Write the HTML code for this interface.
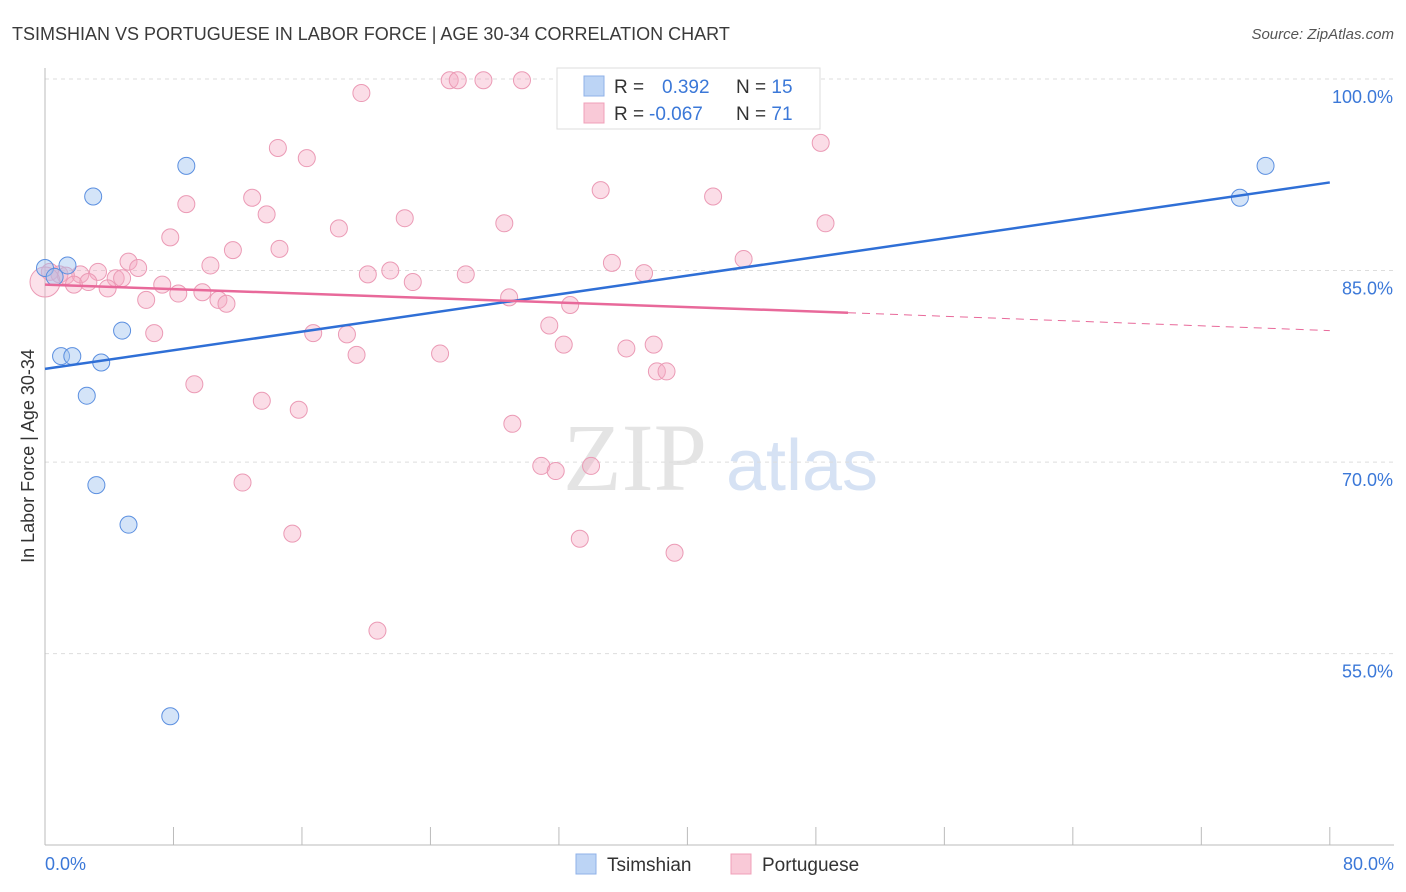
<!DOCTYPE html>
<html><head><meta charset="utf-8"><style>
body{margin:0;background:#fff;font-family:"Liberation Sans",sans-serif;}
svg{display:block}
</style></head><body>
<svg id="chart" width="1406" height="892">
<text x="12" y="40" font-size="18" fill="#3a3a3a">TSIMSHIAN VS PORTUGUESE IN LABOR FORCE | AGE 30-34 CORRELATION CHART</text>
<text x="1394" y="39" font-size="15" fill="#555" font-style="italic" text-anchor="end">Source: ZipAtlas.com</text>
<text x="635" y="490" font-size="96" fill="#e4e4e4" font-family="Liberation Serif,serif" text-anchor="middle">ZIP</text>
<text x="802" y="490" font-size="72" fill="#d6e2f4" text-anchor="middle">atlas</text>
<g id="grid"></g><g id="axes"></g><g id="marks"></g>
<text transform="translate(34,456) rotate(-90)" font-size="18" fill="#333" text-anchor="middle">In Labor Force | Age 30-34</text>
<text x="45" y="870" font-size="18" fill="#3b78d8">0.0%</text>
<text x="1394" y="870" font-size="18" fill="#3b78d8" text-anchor="end">80.0%</text>
<g>
<rect x="557" y="68" width="263" height="61" fill="#fff" stroke="#ddd"/>
<rect x="584" y="76" width="20" height="20" fill="#bcd4f5" stroke="#8fb2e8"/>
<rect x="584" y="103" width="20" height="20" fill="#f9c9d7" stroke="#f0a0b8"/>
<text x="614" y="93" font-size="19" fill="#333">R = <tspan x="662" fill="#3b78d8">0.392</tspan><tspan x="736" fill="#333">N = </tspan><tspan fill="#3b78d8">15</tspan></text>
<text x="614" y="120" font-size="19" fill="#333">R = <tspan x="649" fill="#3b78d8">-0.067</tspan><tspan x="736" fill="#333">N = </tspan><tspan fill="#3b78d8">71</tspan></text>
</g>
<g>
<rect x="576" y="854" width="20" height="20" fill="#bcd4f5" stroke="#8fb2e8"/>
<text x="607" y="871" font-size="19" fill="#333">Tsimshian</text>
<rect x="731" y="854" width="20" height="20" fill="#f9c9d7" stroke="#f0a0b8"/>
<text x="762" y="871" font-size="19" fill="#333">Portuguese</text>
</g>
</svg>
<script>
const yTicks=[100,85,70,55];
const tsX=[0,0.6,1.4,3.0,8.8,1.0,1.7,3.5,4.8,2.6,3.2,5.2,7.8,76.0,74.4];
const tsY=[85.2,84.5,85.4,90.8,93.2,78.3,78.3,77.8,80.3,75.2,68.2,65.1,50.1,93.2,90.7];
const ptX=[25.2,25.7,27.3,29.7,19.7,48.3,14.5,16.3,34.6,41.6,12.9,8.8,13.8,22.4,28.6,48.6,18.3,7.8,14.6,11.7,43.5,35.3,10.3,5.2,5.8,21.5,20.1,26.2,37.3,22.9,3.3,2.2,0.3,0.9,1.3,1.8,2.7,4.4,4.8,3.9,7.3,8.3,9.8,10.8,11.3,6.3,28.9,32.7,31.4,6.8,16.7,18.8,32.3,36.2,37.9,19.4,24.6,38.1,38.7,9.3,13.5,15.8,29.1,30.9,31.8,34.0,12.3,15.4,33.3,39.2,20.7];
const ptY=[99.9,99.9,99.9,99.9,98.9,95.0,94.6,93.8,91.3,90.8,90.7,90.2,89.4,89.1,88.7,88.7,88.3,87.6,86.7,86.6,85.9,85.6,85.4,85.7,85.2,85.0,84.7,84.7,84.8,84.1,84.9,84.7,84.9,84.7,84.6,83.9,84.1,84.4,84.4,83.6,83.9,83.2,83.3,82.7,82.4,82.7,82.9,82.3,80.7,80.1,80.1,80.0,79.2,78.9,79.2,78.4,78.5,77.1,77.1,76.1,74.8,74.1,73.0,69.7,69.3,69.7,68.4,64.4,64.0,62.9,56.8];
const tsLine=[77.3,91.9];
const ptLine=[83.9,81.7,80.3];
const NS='http://www.w3.org/2000/svg';
const X=v=>45+v*16.06, Y=v=>79+(100-v)*12.77;
function mk(p,t,a){const e=document.createElementNS(NS,t);for(const k in a)e.setAttribute(k,a[k]);document.getElementById(p).appendChild(e);return e;}
yTicks.forEach(t=>{
 const l=mk('grid','line',{x1:45,x2:1394,y1:Y(t),y2:Y(t),stroke:'#ddd','stroke-dasharray':'4,4'});
 
 
 const tx=mk('grid','text',{x:1393,y:Y(t)+24,'font-size':18,fill:'#3b78d8','text-anchor':'end'});
 tx.textContent=t.toFixed(1)+'%';
 
 
});
let a=mk('axes','line',{x1:45,x2:45,y1:68,y2:845,stroke:'#bbb'});


a=mk('axes','line',{x1:45,x2:1394,y1:845,y2:845,stroke:'#bbb'});


for(let i=0;i<=10;i++){const t=mk('axes','line',{x1:X(i*8),x2:X(i*8),y1:827,y2:845,stroke:'#bbb'});
 
 }
ptX.forEach((x,i)=>{const c=mk('marks','circle',{cx:X(x),cy:Y(ptY[i]),r:8.5,fill:'rgba(246,170,195,0.4)',stroke:'#eb9ab5','stroke-width':1});
 
 });
let big=mk('marks','circle',{cx:X(0),cy:Y(84.1),r:15,fill:'rgba(246,170,195,0.35)',stroke:'#eb9ab5'});


tsX.forEach((x,i)=>{const c=mk('marks','circle',{cx:X(x),cy:Y(tsY[i]),r:8.5,fill:'rgba(160,195,240,0.45)',stroke:'#5b8fe0','stroke-width':1});
 
 });
let ln=mk('marks','line',{x1:X(0),y1:Y(tsLine[0]),x2:X(80),y2:Y(tsLine[1]),stroke:'#2f6fd6','stroke-width':2.5});


ln=mk('marks','line',{x1:X(0),y1:Y(ptLine[0]),x2:X(50),y2:Y(ptLine[1]),stroke:'#e8699a','stroke-width':2.5});


ln=mk('marks','line',{x1:X(50),y1:Y(ptLine[1]),x2:X(80),y2:Y(ptLine[2]),stroke:'#e8699a','stroke-width':1,'stroke-dasharray':'8,6'});


</script>
</body></html>
